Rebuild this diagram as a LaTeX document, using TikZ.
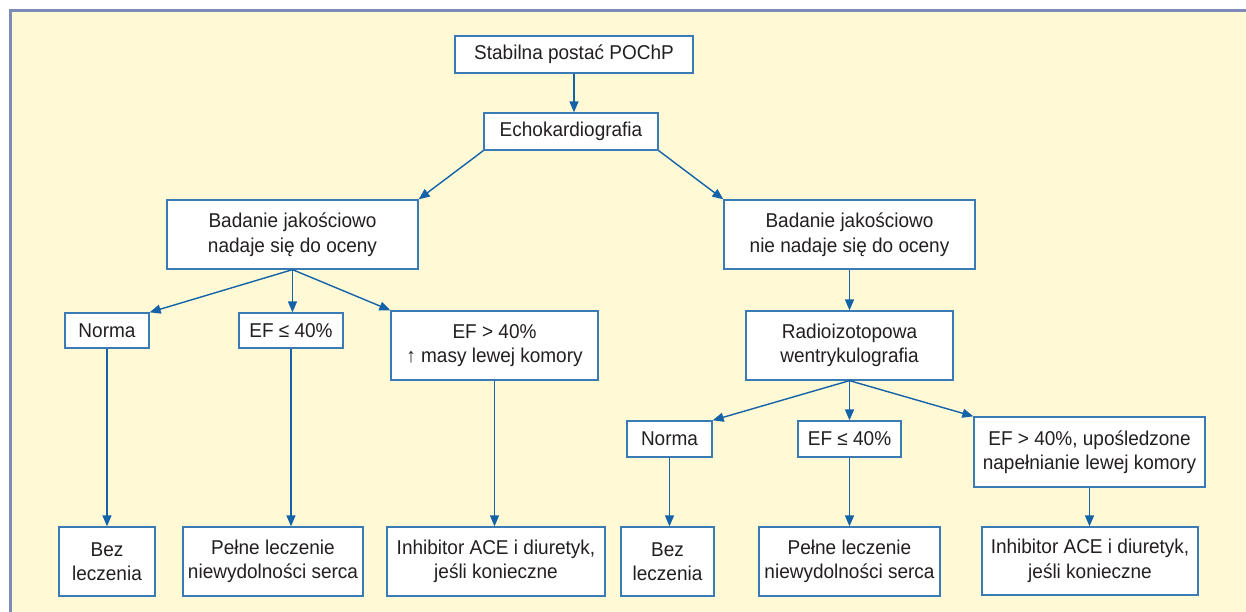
\documentclass[tikz,border=0pt]{standalone}
\usepackage{fontspec}
\setmainfont{Liberation Sans}[FakeStretch=0.95]
\usetikzlibrary{arrows.meta}
\definecolor{panel}{HTML}{FFF9D6}
\definecolor{frame}{HTML}{7D8BBA}
\definecolor{boxline}{HTML}{3A7AB5}
\definecolor{arr}{HTML}{1462A8}
\definecolor{txt}{HTML}{231F20}
\tikzset{
  box/.style={draw=boxline, line width=1.3pt, fill=white, inner sep=0pt, align=center,
    text=txt, font=\fontsize{20}{24.5}\selectfont},
  conn/.style={draw=arr, line width=1.4pt, -{Triangle[length=11pt,width=9pt]}},
}
\begin{document}
\begin{tikzpicture}[x=1pt,y=-1pt]
\useasboundingbox (0,0) rectangle (1246,612);
\fill[white] (0,0) rectangle (1246,612);
\fill[panel] (10,11) rectangle (1246,612);
\draw[frame, line width=3pt] (10,612) -- (10,11) -- (1246,11);

\node[box, minimum width=238pt, minimum height=37pt] (top) at (574,54.5) {Stabilna postać POChP};
\node[box, minimum width=174pt, minimum height=37pt] (echo) at (571,131.5) {Echokardiografia};
\node[box, minimum width=251pt, minimum height=69pt] (badL) at (292.5,234.5) {Badanie jakościowo\\nadaje się do oceny};
\node[box, minimum width=251pt, minimum height=69pt] (badR) at (849.5,234.5) {Badanie jakościowo\\nie nadaje się do oceny};
\node[box, minimum width=84pt, minimum height=35pt] (normL) at (107,330.5) {Norma};
\node[box, minimum width=104pt, minimum height=35pt] (efL) at (291,330.5) {EF ≤ 40\%};
\node[box, minimum width=207pt, minimum height=69pt] (efgL) at (494.5,345.5) {EF > 40\%\\↑ masy lewej komory};
\node[box, minimum width=207pt, minimum height=69pt] (radio) at (849.5,345.5) {Radioizotopowa\\wentrykulografia};
\node[box, minimum width=85pt, minimum height=36pt] (normR) at (669.5,439) {Norma};
\node[box, minimum width=103pt, minimum height=36pt] (efR) at (849.5,439) {EF ≤ 40\%};
\node[box, minimum width=231pt, minimum height=70pt] (efgR) at (1089.5,452) {EF > 40\%, upośledzone\\napełnianie lewej komory};
\node[box, minimum width=96pt, minimum height=69pt] (bezL) at (107,561.5) {Bez\\leczenia};
\node[box, minimum width=180pt, minimum height=69pt] (pelL) at (273,561.5) {Pełne leczenie\\niewydolności serca};
\node[box, minimum width=218pt, minimum height=69pt] (inhL) at (496,561.5) {Inhibitor ACE i diuretyk,\\jeśli konieczne};
\node[box, minimum width=93pt, minimum height=69pt] (bezR) at (667.5,561.5) {Bez\\leczenia};
\node[box, minimum width=181pt, minimum height=69pt] (pelR) at (849.5,561.5) {Pełne leczenie\\niewydolności serca};
\node[box, minimum width=216pt, minimum height=68pt] (inhR) at (1090,561) {Inhibitor ACE i diuretyk,\\jeśli konieczne};

\draw[conn] (top.south) -- (top.south |- echo.north);
\draw[conn] (echo.south west) -- (badL.north east);
\draw[conn] (echo.south east) -- (badR.north west);
\draw[conn] (badL.south) -- (normL.north east);
\draw[conn] (badL.south) -- (badL.south |- efL.north);
\draw[conn] (badL.south) -- (efgL.north west);
\draw[conn] (badR.south) -- (radio.north);
\draw[conn] (radio.south) -- (normR.north east);
\draw[conn] (radio.south) -- (radio.south |- efR.north);
\draw[conn] (radio.south) -- (efgR.north west);
\draw[conn] (normL.south) -- (normL.south |- bezL.north);
\draw[conn] (efL.south) -- (efL.south |- pelL.north);
\draw[conn] (efgL.south) -- (efgL.south |- inhL.north);
\draw[conn] (normR.south) -- (normR.south |- bezR.north);
\draw[conn] (efR.south) -- (efR.south |- pelR.north);
\draw[conn] (efgR.south) -- (efgR.south |- inhR.north);
\end{tikzpicture}
\end{document}
